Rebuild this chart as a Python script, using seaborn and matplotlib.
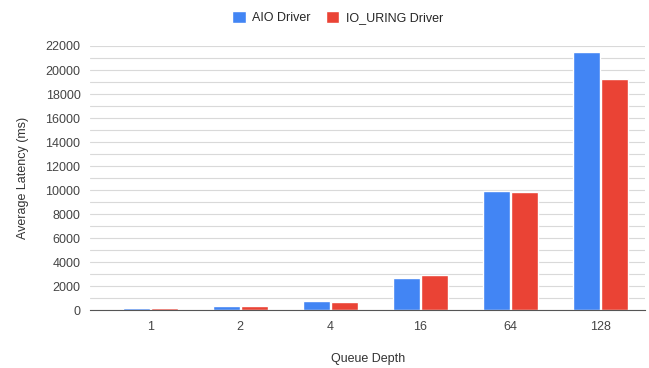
import pandas as pd
import matplotlib.pyplot as plt
import seaborn as sns
from matplotlib.ticker import MultipleLocator

# Data
queue_depths = ["1", "2", "4", "16", "64", "128"]
aio_latency = [150, 350, 750, 2700, 9950, 21500]
io_uring_latency = [140, 300, 650, 2950, 9850, 19250]
series_names = ["AIO Driver", "IO_URING Driver"]
colors = ["#4285F4", "#EA4335"]


def build_frame():
    df = pd.DataFrame({
        "Queue Depth": queue_depths * 2,
        "Latency": aio_latency + io_uring_latency,
        "Driver": [series_names[0]] * len(queue_depths) + [series_names[1]] * len(queue_depths),
    })
    return df


def main():
    sns.set_style("white")
    plt.rcParams['font.family'] = ['Liberation Sans', 'DejaVu Sans']

    df = build_frame()
    fig, ax = plt.subplots(figsize=(6.49, 3.68), dpi=100)
    sns.barplot(data=df, x="Queue Depth", y="Latency", hue="Driver",
                palette=colors, saturation=1, order=queue_depths,
                hue_order=series_names, width=0.62, gap=0.03, ax=ax)

    ax.set_xlim(-0.667, 5.5)
    ax.set_ylim(0, 22000)
    ax.yaxis.set_major_locator(MultipleLocator(2000))
    ax.yaxis.set_minor_locator(MultipleLocator(1000))
    ax.grid(axis="y", which="both", color="#d9d9d9", linewidth=0.8)
    ax.set_axisbelow(True)
    ax.tick_params(axis="both", length=0, labelsize=9, colors="#444444")
    ax.tick_params(axis="y", pad=7)
    ax.tick_params(axis="x", pad=8)
    for side in ["top", "right", "left"]:
        ax.spines[side].set_visible(False)
    ax.spines["bottom"].set_color("#555555")

    ax.set_xlabel("Queue Depth", fontsize=9, color="#333333", labelpad=14)
    ax.set_ylabel("Average Latency (ms)", fontsize=9, color="#333333", labelpad=12)

    ax.legend(loc="center", bbox_to_anchor=(0.52, 0.953), bbox_transform=fig.transFigure,
              ncol=2, frameon=False, fontsize=9, handlelength=1.1, handleheight=1.1,
              columnspacing=1.2, handletextpad=0.5)

    fig.subplots_adjust(left=0.139, right=0.994, top=0.875, bottom=0.1576)
    fig.savefig("out.png", dpi=100)


if __name__ == "__main__":
    main()
